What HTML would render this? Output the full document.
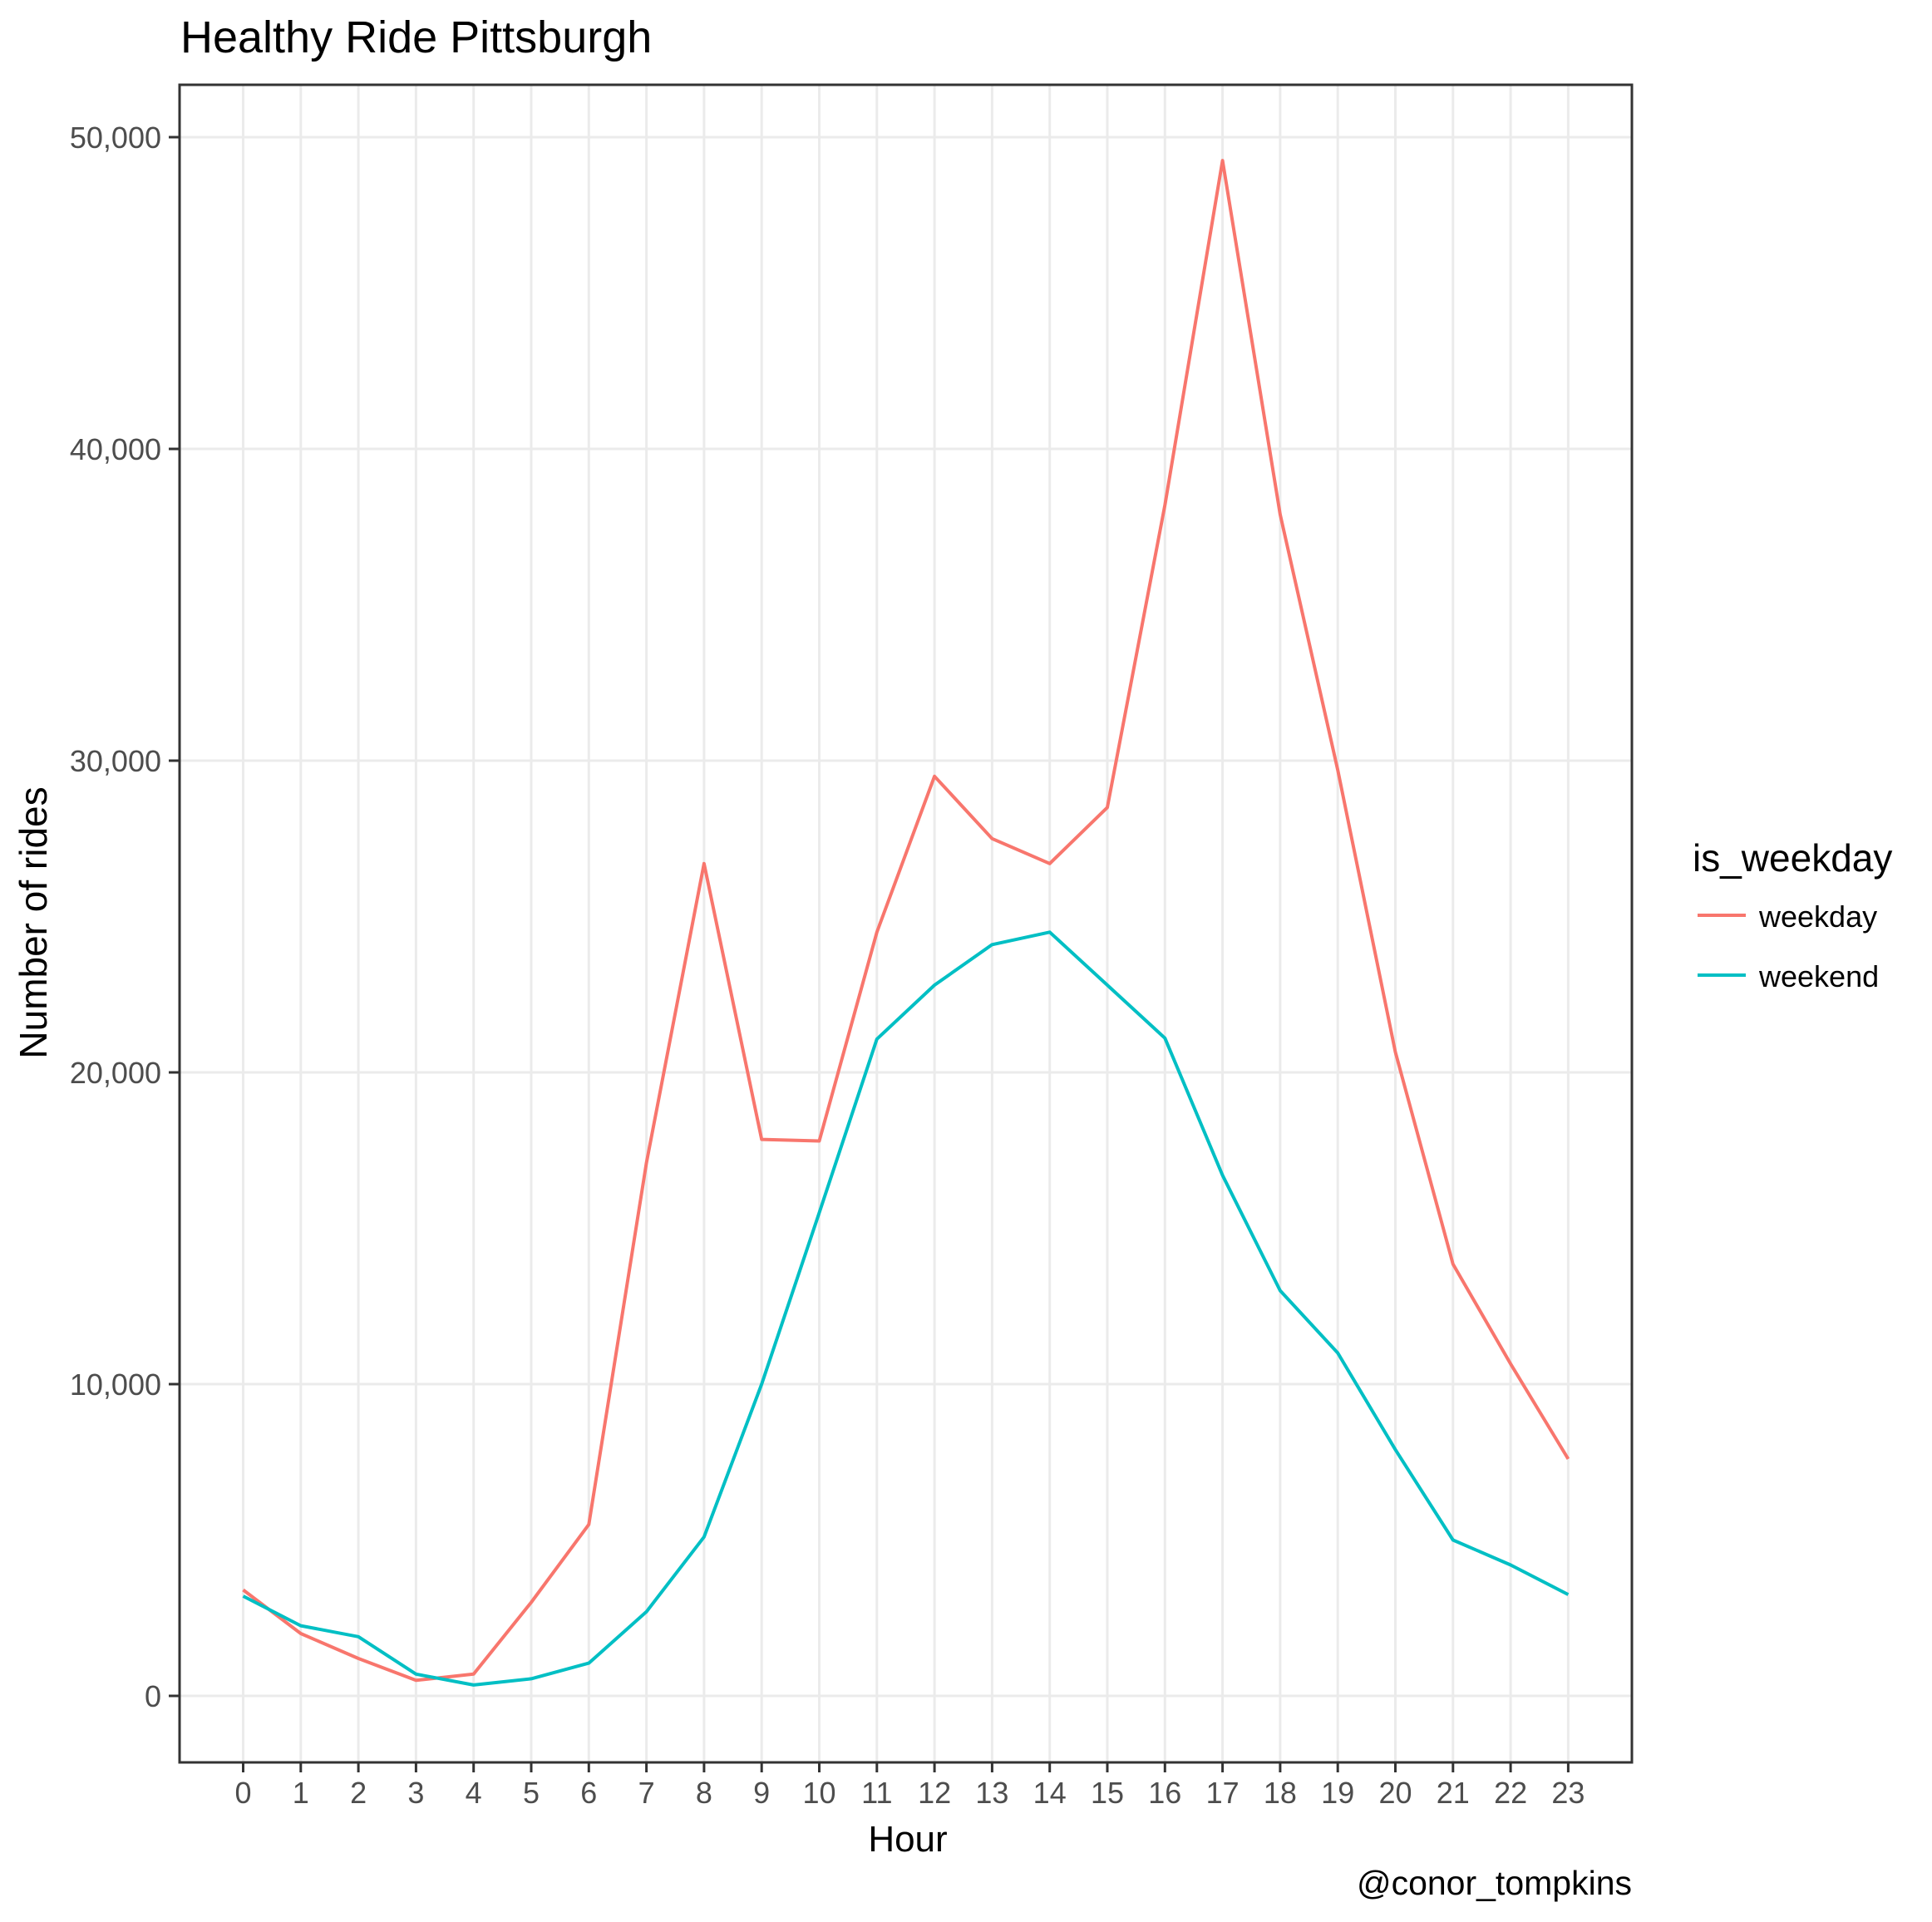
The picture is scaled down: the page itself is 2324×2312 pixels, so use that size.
<!DOCTYPE html>
<html><head><meta charset="utf-8"><style>
html,body{margin:0;padding:0;background:#fff;}
svg{display:block;font-family:"Liberation Sans",Arial,sans-serif;}
</style></head><body>
<svg id="chart" width="2324" height="2312" viewBox="0 0 2324 2312" xmlns="http://www.w3.org/2000/svg">
<rect width="2324" height="2312" fill="#fff"/>
<text x="217" y="63" font-size="54" fill="#000">Healthy Ride Pittsburgh</text>
<g id="grid"></g>
<g id="series"></g>
<rect x="216" y="102" width="1747" height="2018" fill="none" stroke="#333" stroke-width="3"/>
<g id="axes"></g>
<text x="1092" y="2227" font-size="44" text-anchor="middle" fill="#000">Hour</text>
<text transform="translate(56,1110) rotate(-90)" font-size="46" text-anchor="middle" fill="#000">Number of rides</text>
<text x="1963" y="2279" font-size="41" text-anchor="end" fill="#000">@conor_tompkins</text>
<g>
<text x="2036" y="1048" font-size="46" fill="#000">is_weekday</text>
<g>
<line x1="2042" y1="1101" x2="2100" y2="1101" stroke="#F8766D" stroke-width="4"/>
<text x="2116" y="1115" font-size="36" fill="#000">weekday</text>
</g>
<g>
<line x1="2042" y1="1173" x2="2100" y2="1173" stroke="#00BFC4" stroke-width="4"/>
<text x="2116" y="1187" font-size="36" fill="#000">weekend</text>
</g>
</g>
</svg>
<script>
const hours = [0,1,2,3,4,5,6,7,8,9,10,11,12,13,14,15,16,17,18,19,20,21,22,23];
const weekday = [3400,2000,1200,500,700,3000,5500,17100,26700,17850,17800,24500,29500,27500,26700,28500,38200,49250,37900,29700,20650,13850,10650,7600];
const weekend = [3200,2250,1900,700,350,550,1050,2700,5100,10000,15500,21070,22800,24100,24500,22800,21100,16700,13000,11000,7900,5000,4200,3250];
const yTicks = [0,10000,20000,30000,40000,50000];
const yTickLabels = ["0","10,000","20,000","30,000","40,000","50,000"];

const NS = "http://www.w3.org/2000/svg";
const X0 = 292.5, XS = 69.3;
const Y0 = 2040, YS = 0.0375;
function xScale(h){ return X0 + h*XS; }
function yScale(v){ return Y0 - v*YS; }
function mk(tag, attrs, parent){
  const e = document.createElementNS(NS, tag);
  for (const k in attrs) e.setAttribute(k, attrs[k]);
  parent.appendChild(e);
  return e;
}
const grid = document.getElementById('grid');
const axes = document.getElementById('axes');
const series = document.getElementById('series');

yTicks.forEach((t,i)=>{
  const y = yScale(t);
  const g = mk('line',{x1:216,x2:1963,y1:y,y2:y,stroke:'#ebebeb','stroke-width':3},grid);
  
  
  const tk = mk('line',{x1:203,x2:216,y1:y,y2:y,stroke:'#333','stroke-width':3},axes);
  
  
  const lb = mk('text',{x:194,y:y+13,'font-size':36,'text-anchor':'end',fill:'#4d4d4d'},axes);
  
  
  lb.textContent = yTickLabels[i];
});
hours.forEach(h=>{
  const x = xScale(h);
  const g = mk('line',{x1:x,x2:x,y1:102,y2:2120,stroke:'#ebebeb','stroke-width':3},grid);
  
  
  const tk = mk('line',{x1:x,x2:x,y1:2120,y2:2132,stroke:'#333','stroke-width':3},axes);
  
  
  const lb = mk('text',{x:x,y:2169,'font-size':36,'text-anchor':'middle',fill:'#4d4d4d'},axes);
  
  
  lb.textContent = String(h);
});
function drawLine(vals, color, name){
  const pts = vals.map((v,i)=>xScale(hours[i]).toFixed(1)+','+yScale(v).toFixed(1)).join(' ');
  const p = mk('polyline',{points:pts,fill:'none',stroke:color,'stroke-width':4,'stroke-linejoin':'round'},series);
  
  
}
drawLine(weekday,'#F8766D','weekday-line');
drawLine(weekend,'#00BFC4','weekend-line');
</script>
</body></html>
